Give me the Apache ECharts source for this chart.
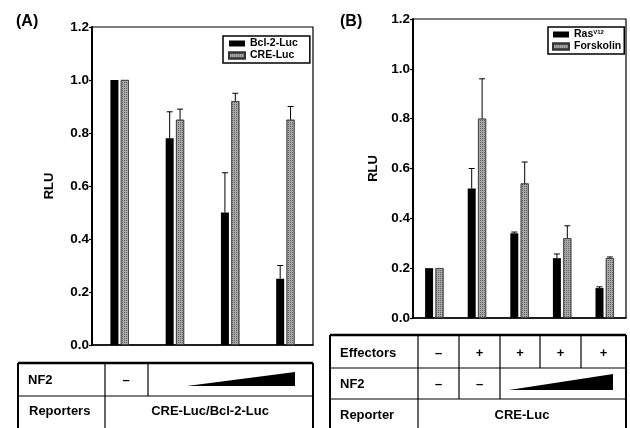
<!DOCTYPE html>
<html><head><meta charset="utf-8">
<script src="https://cdn.jsdelivr.net/npm/echarts@6/dist/echarts.min.js"></script>
<style>html,body{margin:0;padding:0;background:#fff}#c{width:630px;height:428px}</style>
</head><body><div id="c"></div>
<script>
// ---- data ----
const catsA = ['c1', 'c2', 'c3', 'c4'];
const bclLuc = [1.0, 0.78, 0.50, 0.25];
const bclErrTop = [1.0, 0.88, 0.65, 0.30];
const creLuc = [1.0, 0.85, 0.92, 0.85];
const creErrTop = [1.0, 0.89, 0.95, 0.90];

const catsB = ['d1', 'd2', 'd3', 'd4', 'd5'];
const rasV12 = [0.20, 0.52, 0.34, 0.24, 0.12];
const rasErrTop = [0.20, 0.60, 0.345, 0.257, 0.125];
const forskolin = [0.20, 0.80, 0.54, 0.32, 0.24];
const forsErrTop = [0.20, 0.96, 0.626, 0.37, 0.245];

const effectorsRow = ['–', '+', '+', '+', '+'];
const nf2RowB = ['–', '–'];

// ---- styles ----
const FONT = 'Liberation Sans';
const BW = 8, GAP = 0.3;
const OFF = (BW + BW * GAP) / 2;
const grayStyle = {
  color: '#a8a8a8', borderColor: '#333', borderWidth: 0.6,
  decal: { symbol: 'rect', symbolSize: 1, dashArrayX: [1, 1], dashArrayY: [1, 1], color: 'rgba(40,40,40,0.55)' }
};
const blackStyle = { color: '#000' };

function errSeries(name, xi, yi, vals, tops, dx) {
  return {
    type: 'custom', name: name, xAxisIndex: xi, yAxisIndex: yi, z: 5,
    data: vals.map((v, i) => [i, v, tops[i]]),
    renderItem: function (params, api) {
      const i = api.value(0), lo = api.value(1), hi = api.value(2);
      if (hi <= lo) return null;
      const p0 = api.coord([i, lo]), p1 = api.coord([i, hi]);
      const x = p0[0] + dx;
      return { type: 'group', children: [
        { type: 'line', shape: { x1: x, y1: p0[1], x2: x, y2: p1[1] }, style: { stroke: '#000', lineWidth: 1 } },
        { type: 'line', shape: { x1: x - 3, y1: p1[1], x2: x + 3, y2: p1[1] }, style: { stroke: '#000', lineWidth: 1 } }
      ] };
    },
    tooltip: { show: false }
  };
}

function yAx(gi, nameGap) {
  return {
    type: 'value', gridIndex: gi, min: 0, max: 1.2, interval: 0.2,
    name: 'RLU', nameLocation: 'middle', nameGap: nameGap, nameRotate: 90,
    nameTextStyle: { fontFamily: FONT, fontWeight: 'bold', fontSize: 13, color: '#000' },
    axisLine: { show: true, lineStyle: { color: '#000', width: 2 } },
    axisTick: { show: true, length: 3, lineStyle: { color: '#000', width: 1.2 } },
    axisLabel: { fontFamily: FONT, fontWeight: 'bold', fontSize: 13.5, color: '#000', margin: 3,
      formatter: v => v.toFixed(1) },
    splitLine: { show: false }
  };
}
function xAx(gi, cats) {
  return {
    type: 'category', gridIndex: gi, data: cats,
    axisLine: { show: true, lineStyle: { color: '#000', width: 1.5 } },
    axisTick: { show: false }, axisLabel: { show: false }
  };
}

// ---- table graphics ----
const T = (x, y, text, align, size) => ({ type: 'text', x: x, y: y,
  style: { text: text, fontFamily: FONT, fontWeight: 'bold', fontSize: size || 13, fill: '#000',
    align: align || 'left', verticalAlign: 'middle' } });
const L = (x1, y1, x2, y2, w) => ({ type: 'line', shape: { x1, y1, x2, y2 }, style: { stroke: '#000', lineWidth: w || 1.2 } });

const graphics = [
  T(16, 22, '(A)', 'left', 16),
  T(340, 22, '(B)', 'left', 16),
  // table A
  L(18, 363, 313, 363, 2.5), L(18, 363, 18, 432, 2), L(313, 363, 313, 432, 2),
  L(18, 396, 313, 396, 1.2), L(105, 363, 105, 432, 1.2), L(148, 363, 148, 396, 1.2),
  T(28, 380, 'NF2'), T(126, 380, '–', 'center'),
  { type: 'polygon', shape: { points: [[187, 386], [295, 372], [295, 386]] }, style: { fill: '#000' } },
  T(29, 411, 'Reporters'), T(210, 411, 'CRE-Luc/Bcl-2-Luc', 'center'),
  // table B
  L(330, 335, 626, 335, 2.5), L(330, 335, 330, 432, 2), L(626, 335, 626, 432, 2),
  L(330, 368, 626, 368, 1.2), L(330, 399, 626, 399, 1.2),
  L(418, 335, 418, 432, 1.2), L(459, 335, 459, 399, 1.2), L(500, 335, 500, 399, 1.2),
  L(540, 335, 540, 368, 1.2), L(581, 335, 581, 368, 1.2),
  T(340, 353, 'Effectors'), T(340, 384, 'NF2'), T(340, 415, 'Reporter'),
  { type: 'polygon', shape: { points: [[509, 390], [613, 374], [613, 390]] }, style: { fill: '#000' } },
  T(522, 415, 'CRE-Luc', 'center')
];
const cellCentersB = [438.5, 479.5, 520, 560.5, 603.5];
effectorsRow.forEach((s, i) => graphics.push(T(cellCentersB[i], 353, s, 'center')));
nf2RowB.forEach((s, i) => graphics.push(T(cellCentersB[i], 384, s, 'center')));

const legendText = { fontFamily: FONT, fontWeight: 'bold', fontSize: 10.5, color: '#000', lineHeight: 11,
  rich: { sup: { fontFamily: FONT, fontWeight: 'bold', fontSize: 6, color: '#000', verticalAlign: 'top', padding: [0, 0, 7, 0] } } };

const option = {
  animation: false,
  backgroundColor: '#fff',
  grid: [
    { left: 92, top: 27, width: 221, height: 318, show: true, borderColor: '#000', borderWidth: 1.2 },
    { left: 413, top: 19, width: 213, height: 299, show: true, borderColor: '#000', borderWidth: 1.2 }
  ],
  xAxis: [xAx(0, catsA), xAx(1, catsB)],
  yAxis: [yAx(0, 36), yAx(1, 33)],
  legend: [
    { data: ['Bcl-2-Luc', 'CRE-Luc'], orient: 'vertical', left: 223, top: 36, padding: [2, 12, 2, 5],
      itemGap: 1, itemWidth: 16, itemHeight: 6, backgroundColor: '#fff',
      borderColor: '#000', borderWidth: 1.5, textStyle: legendText, icon: 'rect' },
    { data: ['RasV12', 'Forskolin'], orient: 'vertical', left: 548, top: 27, padding: [2, 3, 2, 4],
      itemGap: 1, itemWidth: 16, itemHeight: 6, backgroundColor: '#fff',
      borderColor: '#000', borderWidth: 1.5, textStyle: legendText, icon: 'rect',
      formatter: n => n === 'RasV12' ? 'Ras{sup|V12}' : n }
  ],
  graphic: graphics,
  series: [
    { type: 'bar', name: 'Bcl-2-Luc', xAxisIndex: 0, yAxisIndex: 0, data: bclLuc, barWidth: BW, barGap: '30%', itemStyle: blackStyle },
    { type: 'bar', name: 'CRE-Luc', xAxisIndex: 0, yAxisIndex: 0, data: creLuc, barWidth: BW, barGap: '30%', itemStyle: grayStyle },
    errSeries('eA1', 0, 0, bclLuc, bclErrTop, -OFF),
    errSeries('eA2', 0, 0, creLuc, creErrTop, OFF),
    { type: 'bar', name: 'RasV12', xAxisIndex: 1, yAxisIndex: 1, data: rasV12, barWidth: BW, barGap: '30%', itemStyle: blackStyle },
    { type: 'bar', name: 'Forskolin', xAxisIndex: 1, yAxisIndex: 1, data: forskolin, barWidth: BW, barGap: '30%', itemStyle: grayStyle },
    errSeries('eB1', 1, 1, rasV12, rasErrTop, -OFF),
    errSeries('eB2', 1, 1, forskolin, forsErrTop, OFF)
  ]
};
const chart = echarts.init(document.getElementById('c'), null, { renderer: 'canvas' });
chart.setOption(option);
</script></body></html>
